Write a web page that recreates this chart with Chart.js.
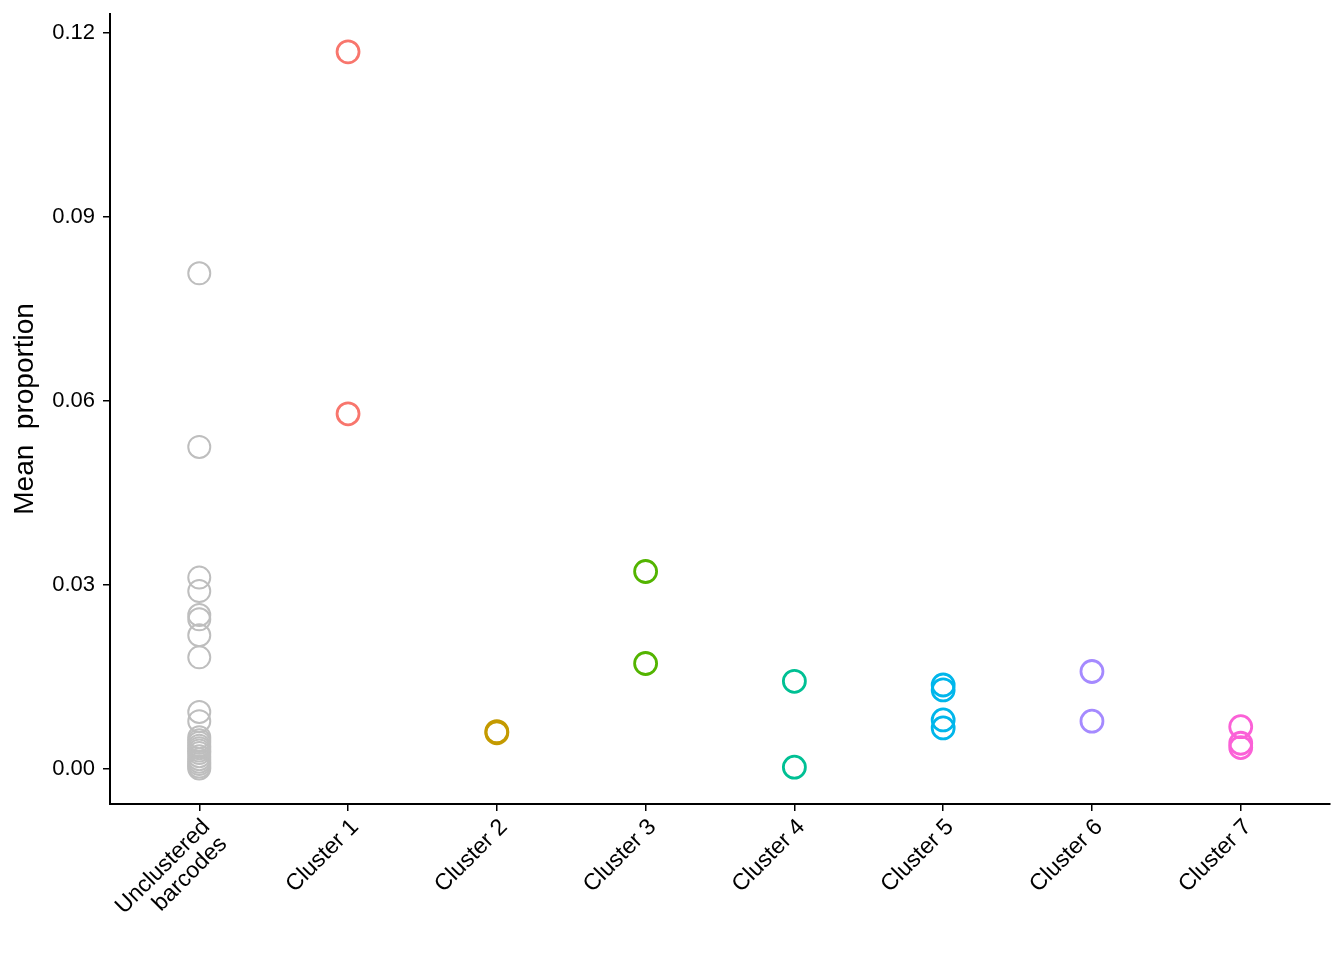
<!DOCTYPE html>
<html>
<head>
<meta charset="utf-8">
<script src="https://cdn.jsdelivr.net/npm/chart.js@4/dist/chart.umd.min.js"></script>
<style>
  html, body { margin: 0; padding: 0; background: #fff; }
  #wrap { width: 1344px; height: 960px; }
</style>
</head>
<body>
<div id="wrap"><canvas id="myChart" width="1344" height="960"></canvas></div>
<script>
// categories on the x axis
const categories = [
    ['Unclustered', 'barcodes'],
    'Cluster 1', 'Cluster 2', 'Cluster 3', 'Cluster 4',
    'Cluster 5', 'Cluster 6', 'Cluster 7'
];

// mean proportion values per category
const unclustered = [0.0808, 0.0525, 0.0312, 0.0290, 0.0251, 0.0244, 0.0218, 0.0182,
    0.0093, 0.0078, 0.0052, 0.0047, 0.0043, 0.0038, 0.0034, 0.0030, 0.0026,
    0.0021, 0.0016, 0.0012, 0.0008, 0.0004, 0.0001];
const cluster1 = [0.1169, 0.0579];
const cluster2 = [0.0061, 0.0059];
const cluster3 = [0.0322, 0.0172];
const cluster4 = [0.0143, 0.0003];
const cluster5 = [0.0137, 0.0129, 0.0080, 0.0067];
const cluster6 = [0.0159, 0.0078];
const cluster7 = [0.0069, 0.0042, 0.0035];

const seriesValues = [unclustered, cluster1, cluster2, cluster3, cluster4, cluster5, cluster6, cluster7];
const seriesColors = ['#BEBEBE', '#F8766D', '#C49A00', '#53B400', '#00C094', '#00B6EB', '#A58AFF', '#FB61D7'];

const yTicks = [0, 0.03, 0.06, 0.09, 0.12];

const FONT = 'Liberation Sans, Arial, sans-serif';

const datasets = seriesValues.map((vals, i) => ({
    label: Array.isArray(categories[i]) ? categories[i].join(' ') : categories[i],
    data: vals.map(v => ({ x: i, y: v })),
    borderColor: seriesColors[i],
    backgroundColor: 'rgba(0,0,0,0)',
    pointRadius: 11,
    pointHoverRadius: 11,
    pointBorderWidth: i === 0 ? 2 : 2.8,
    showLine: false
}));

const ctx = document.getElementById('myChart').getContext('2d');
const chart = new Chart(ctx, {
    type: 'scatter',
    data: { datasets: datasets },
    options: {
        responsive: false,
        animation: false,
        layout: { padding: { top: 12, right: 14, left: 0, bottom: 0 } },
        plugins: {
            legend: { display: false },
            tooltip: { enabled: false }
        },
        scales: {
            x: {
                type: 'linear',
                min: -0.6,
                max: 7.6,
                afterBuildTicks: scale => {
                    scale.ticks = categories.map((c, i) => ({ value: i }));
                },
                afterFit: scale => {
                    scale.height = 156;
                    scale.paddingLeft = 0;
                    scale.paddingRight = 0;
                },
                grid: { drawOnChartArea: false, drawTicks: true, tickLength: 7, color: '#000', lineWidth: 1.5 },
                border: { color: '#000', width: 2 },
                ticks: {
                    maxRotation: 45,
                    minRotation: 45,
                    autoSkip: false,
                    color: '#000',
                    padding: 4,
                    labelOffset: 7,
                    font: { family: FONT, size: 23, lineHeight: 1.05 },
                    callback: value => categories[value]
                }
            },
            y: {
                min: -0.0057,
                max: 0.1231,
                afterBuildTicks: scale => {
                    scale.ticks = yTicks.map(v => ({ value: v }));
                },
                afterFit: scale => {
                    scale.width = 110;
                    scale.paddingTop = 0;
                    scale.paddingBottom = 0;
                },
                grid: { drawOnChartArea: false, drawTicks: true, tickLength: 7, color: '#000', lineWidth: 1.5 },
                border: { color: '#000', width: 2 },
                title: {
                    display: true,
                    text: 'Mean  proportion',
                    color: '#000',
                    font: { family: FONT, size: 28 },
                    padding: { top: 8, bottom: 0 }
                },
                ticks: {
                    color: '#000',
                    padding: 8,
                    font: { family: FONT, size: 22 },
                    callback: value => value.toFixed(2)
                }
            }
        }
    }
});
</script>
</body>
</html>
